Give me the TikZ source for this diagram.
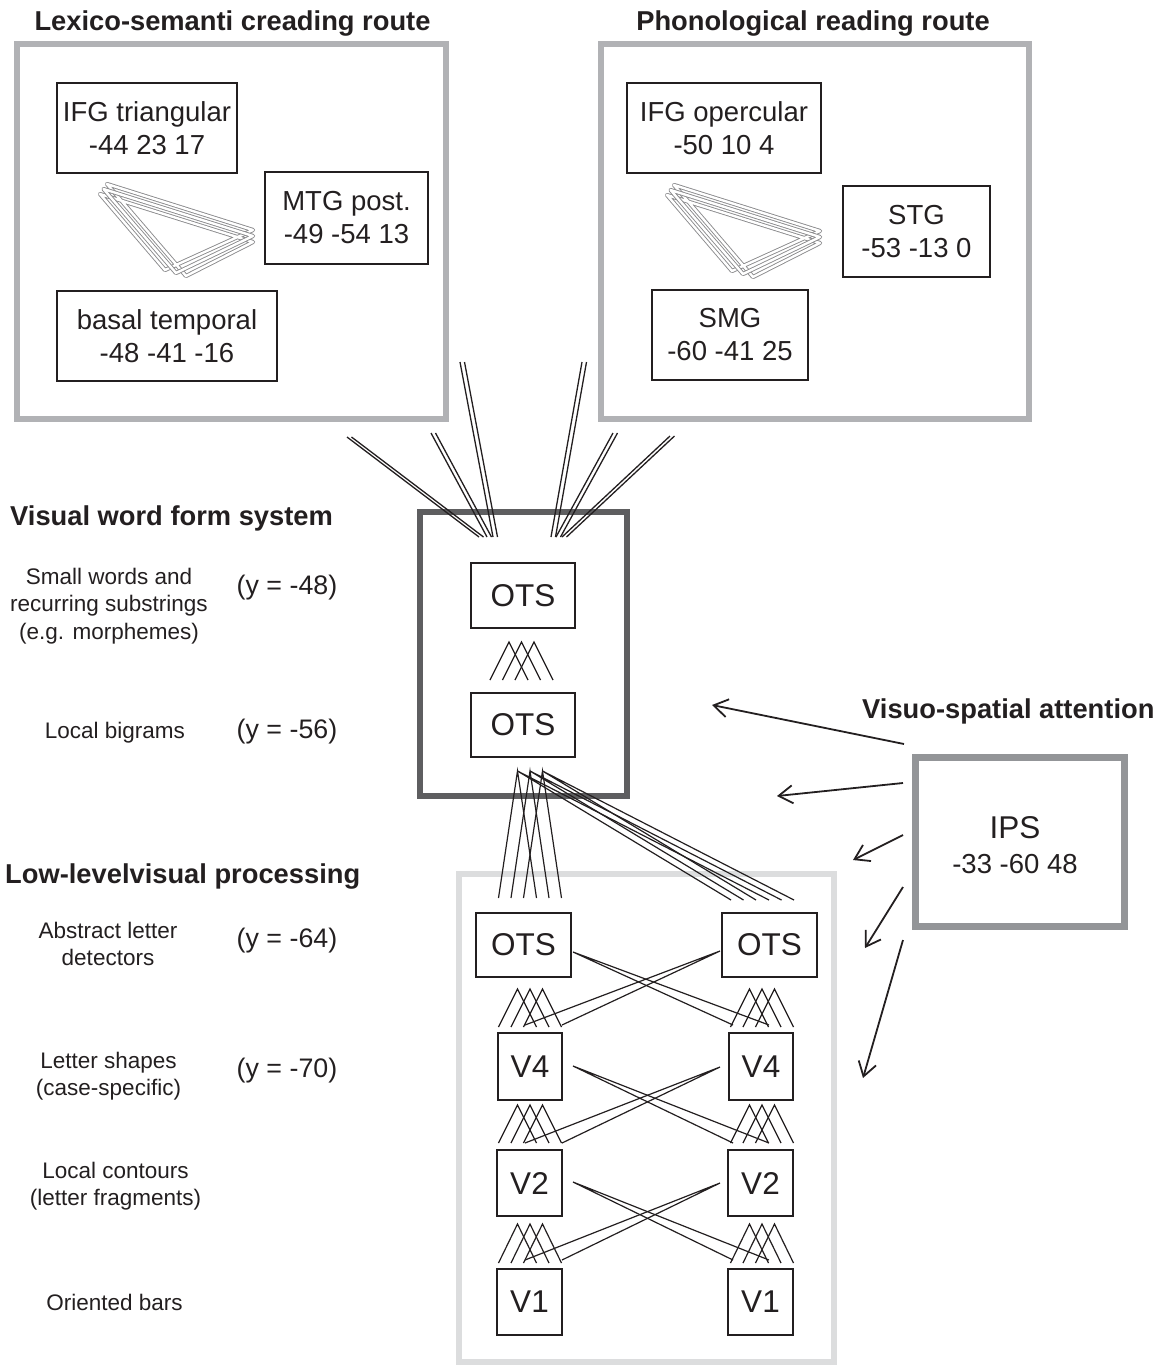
\documentclass[tikz,border=0pt]{standalone}
\usepackage{fontspec}
\setmainfont{Liberation Sans}
\usetikzlibrary{arrows.meta}
\definecolor{ink}{HTML}{231F20}
\definecolor{routegray}{HTML}{B1B2B5}
\definecolor{vwfgray}{HTML}{5E5E60}
\definecolor{lowgray}{HTML}{DCDDDE}
\definecolor{ipsgray}{HTML}{939598}
\definecolor{loopgray}{HTML}{8A8A8C}
\newcommand\regionfont{\fontsize{27.5}{33}\selectfont}
\newcommand\areafont{\fontsize{31.5}{36}\selectfont}
\newcommand\headfont{\fontsize{27.3}{33}\selectfont\bfseries}
\newcommand\levelfont{\fontsize{22.5}{27.5}\selectfont}
\newcommand\ycoordfont{\fontsize{26.8}{32}\selectfont}

\tikzset{
  frame/.style={line width=6pt, inner sep=0pt},
  roi/.style={draw=ink, line width=1.5pt, inner sep=0pt, align=center, text=ink, font=\regionfont},
  area/.style={draw=ink, line width=1.5pt, inner sep=0pt, text=ink, font=\areafont},
  head/.style={inner sep=0pt, text=ink, font=\headfont},
  level/.style={inner sep=0pt, align=center, text=ink, font=\levelfont},
  ylab/.style={inner sep=0pt, text=ink, font=\ycoordfont},
  rayline/.style={draw=ink, line width=1.3pt},
  fanline/.style={draw=ink, line width=1.2pt},
  crossline/.style={draw=ink, line width=1.2pt},
  loopline/.style={draw=loopgray, line width=0.9pt, double=white, double distance=2.4pt, line join=round},
  attn/.style={draw=ink, line width=1.8pt, -{Straight Barb[length=14pt,width=18pt]}},
  pics/fan/.style={code={
    \foreach \d in {-12.5,0,12.5}{\draw[fanline] (\d-19,#1) -- (\d,0) -- (\d+19,#1);}
  }},
  pics/loop3/.style={code={
    \draw[loopline] (0,0) -- (146,46) -- (58,86) -- (-7,10) -- (146,58) -- (79,92) -- cycle;
    \draw[loopline] (-3.5,5) -- (146,52) -- (69,89) -- cycle;
  }}
}

\begin{document}
\begin{tikzpicture}[x=1pt,y=-1pt]
\useasboundingbox (0,0) rectangle (1161,1366);

% ---- large frames ----
\node[frame, draw=routegray, minimum width=429.5pt, minimum height=375pt] (lexframe) at (231.25,231.5) {};
\node[frame, draw=routegray, minimum width=428pt, minimum height=375pt] (phoframe) at (815,231.5) {};
\node[frame, draw=vwfgray, minimum width=207pt, minimum height=284pt] (vwfframe) at (523.5,654) {};
\node[frame, draw=lowgray, minimum width=375pt, minimum height=488pt] (lowframe) at (646.5,1118) {};
\node[frame, draw=ipsgray, line width=7pt, minimum width=209pt, minimum height=169pt] (ips) at (1019.5,841.5) {};
\node[inner sep=0pt, text=ink, font=\areafont, anchor=base] (ipsname) at (1015,838) {IPS};
\node[inner sep=0pt, text=ink, font=\regionfont, anchor=base] (ipsxyz) at (1015,873) {-33 -60 48};

% ---- headings ----
\node[head, anchor=base] (hlex) at (232.5,30) {Lexico-semanti creading route};
\node[head, anchor=base] (hpho) at (813,30) {Phonological reading route};
\node[head, anchor=base west] (hvwf) at (10,525) {Visual word form system};
\node[head, anchor=base west] (hlow) at (5,883) {Low-levelvisual processing};
\node[head, anchor=base west] (hvsa) at (862,718) {Visuo-spatial attention};

% ---- lexico-semantic regions ----
\node[roi, minimum width=180pt, minimum height=90pt] (ifgt) at (147,128) {IFG triangular\\-44 23 17};
\node[roi, minimum width=163pt, minimum height=92pt] (mtg) at (346.5,218) {MTG post.\\-49 -54 13};
\node[roi, minimum width=220pt, minimum height=90pt] (basal) at (167,336) {basal temporal\\-48 -41 -16};
\pic at (107,184) {loop3};

% ---- phonological regions ----
\node[roi, minimum width=194pt, minimum height=90pt] (ifgo) at (724,128) {IFG opercular\\-50 10 4};
\node[roi, minimum width=147pt, minimum height=91pt] (stg) at (916.5,231.5) {STG\\-53 -13 0};
\node[roi, minimum width=156pt, minimum height=90pt] (smg) at (730,335) {SMG\\-60 -41 25};
\pic at (674,185) {loop3};

% ---- visual word form areas ----
\node[area, minimum width=104pt, minimum height=65pt] (otsA) at (523,595.5) {OTS};
\node[area, minimum width=104pt, minimum height=64pt] (otsB) at (523,725) {OTS};

% ---- low-level areas ----
\node[area, minimum width=95pt, minimum height=64pt] (otsL) at (523.5,945) {OTS};
\node[area, minimum width=95pt, minimum height=64pt] (otsR) at (769.5,945) {OTS};
\node[area, minimum width=64pt, minimum height=67pt] (v4L) at (530,1066.5) {V4};
\node[area, minimum width=64pt, minimum height=67pt] (v4R) at (761,1066.5) {V4};
\node[area, minimum width=65pt, minimum height=66pt] (v2L) at (529.5,1183) {V2};
\node[area, minimum width=65pt, minimum height=66pt] (v2R) at (760.5,1183) {V2};
\node[area, minimum width=65pt, minimum height=66pt] (v1L) at (529.5,1302) {V1};
\node[area, minimum width=65pt, minimum height=66pt] (v1R) at (760.5,1302) {V1};

% ---- projections from the reading routes (paired lines) ----
\foreach \tx/\ty/\bx [count=\i] in {347/437/479, 431/433/487, 460/362/493, 582/362/551, 613/433/556, 670/436/562}{
  \coordinate (rtop\i) at (\tx,\ty);
  \coordinate (rbot\i) at (\bx,537);
  \draw[rayline] (rtop\i) -- (rbot\i);
  \draw[rayline] ([xshift=4.5pt]rtop\i) -- ([xshift=4.5pt]rbot\i);
}

% ---- convergent fans ----
\pic at (521.5,642) {fan=38};
\pic at (530,989) {fan=38};
\pic at (762,989) {fan=38};
\pic at (530,1105) {fan=38};
\pic at (762,1105) {fan=38};
\pic at (530,1224) {fan=39};
\pic at (762,1224) {fan=39};

% long fan from bigram OTS down to both letter-detector OTS
\foreach \d [count=\i] in {-12.5,0,12.5}{
  \coordinate (pk\i) at (530+\d,771);
  \coordinate (lfa\i) at (530+\d-19,898);
  \coordinate (lfb\i) at (530+\d+19,898);
  \coordinate (rfa\i) at (762.5+\d-19,900);
  \coordinate (rfb\i) at (762.5+\d+19,900);
  \draw[fanline] (lfa\i) -- (pk\i) -- (lfb\i);
  \draw[fanline] (rfa\i) -- (pk\i) -- (rfb\i);
}

% ---- crossing projections between hemifields ----
\foreach \row/\ls/\rs/\ye in {a/952/951/1025, b/1066/1067/1143, c/1182/1183/1260}{
  \coordinate (xl\row) at (573,\ls);
  \coordinate (xr\row) at (720,\rs);
  \coordinate (xla\row) at (733,\ye);
  \coordinate (xlb\row) at (769,\ye);
  \coordinate (xra\row) at (525,\ye);
  \coordinate (xrb\row) at (562,\ye);
  \draw[crossline] (xla\row) -- (xl\row) -- (xlb\row);
  \draw[crossline] (xra\row) -- (xr\row) -- (xrb\row);
}

% ---- attention arrows from IPS ----
\foreach \sx/\sy/\ex/\ey [count=\i] in {904/744/712/705, 903/783/777/796, 903/835/853/860, 903/887/865/948, 903/940/863/1078}{
  \coordinate (as\i) at (\sx,\sy);
  \coordinate (ae\i) at (\ex,\ey);
  \draw[attn] (as\i) -- (ae\i);
}

% ---- level descriptions ----
\node[level] (lsmall) at (109,606) {Small words and\\recurring substrings\\(e.g. morphemes)};
\node[ylab] (y48) at (287,588) {(y = -48)};
\node[level] (lbigram) at (115,733) {Local bigrams};
\node[ylab] (y56) at (287,732) {(y = -56)};
\node[level] (labstract) at (108,944) {Abstract letter\\detectors};
\node[ylab] (y64) at (287,941) {(y = -64)};
\node[level] (lshapes) at (108.5,1076) {Letter shapes\\(case-specific)};
\node[ylab] (y70) at (287,1071) {(y = -70)};
\node[level] (lcontours) at (115.5,1186) {Local contours\\(letter fragments)};
\node[level] (lbars) at (114.5,1302) {Oriented bars};

\end{tikzpicture}
\end{document}
